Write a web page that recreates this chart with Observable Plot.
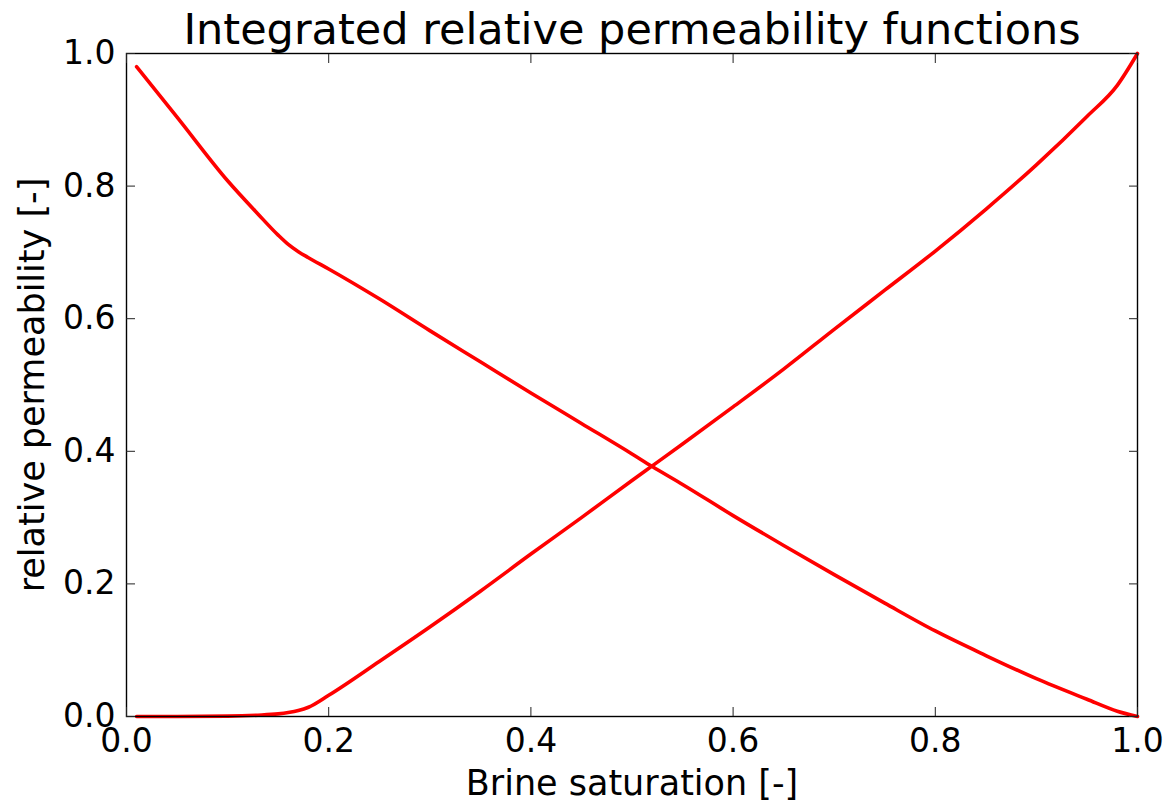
<!DOCTYPE html>
<html>
<head>
<meta charset="utf-8">
<script src="https://cdn.jsdelivr.net/npm/d3@7"></script>
<script src="https://cdn.jsdelivr.net/npm/@observablehq/plot@0.6"></script>
<style>
  html, body { margin: 0; padding: 0; background: #fff; }
  #chart svg { display: block; }
</style>
</head>
<body>
<div id="chart"></div>
<script>
const title = "Integrated relative permeability functions";
const xLabel = "Brine saturation [-]";
const yLabel = "relative permeability [-]";
const tickValues = [0, 0.2, 0.4, 0.6, 0.8, 1.0];

const saturation = [0.01, 0.05, 0.10, 0.13, 0.15, 0.16, 0.17, 0.18, 0.20, 0.25, 0.30, 0.35, 0.40, 0.45, 0.50, 0.52, 0.55, 0.60, 0.65, 0.70, 0.75, 0.80, 0.85, 0.90, 0.95, 0.98, 1.00];
const krDecreasing = [0.980, 0.904, 0.808, 0.758, 0.726, 0.712, 0.701, 0.692, 0.675, 0.630, 0.582, 0.535, 0.488, 0.442, 0.396, 0.377, 0.350, 0.303, 0.258, 0.214, 0.171, 0.129, 0.092, 0.057, 0.026, 0.008, 0.000];
const krIncreasing = [0.000, 0.000, 0.0005, 0.002, 0.004, 0.006, 0.009, 0.014, 0.032, 0.083, 0.135, 0.189, 0.245, 0.300, 0.356, 0.378, 0.411, 0.467, 0.524, 0.584, 0.643, 0.702, 0.765, 0.832, 0.905, 0.952, 1.000];

const rows = [];
saturation.forEach((s, i) => {
  rows.push({series: "decreasing", s, kr: krDecreasing[i]});
});
saturation.forEach((s, i) => {
  rows.push({series: "increasing", s, kr: krIncreasing[i]});
});

const fmt = d3.format(".1f");
const font = "DejaVu Sans";

const chart = Plot.plot({
  width: 1167,
  height: 801,
  marginLeft: 126,
  marginRight: 30,
  marginTop: 53,
  marginBottom: 85,
  style: {fontFamily: font, fontSize: "33px", color: "black", background: "white"},
  x: {domain: [0, 1]},
  y: {domain: [0, 1]},
  marks: [
    Plot.line(rows, {x: "s", y: "kr", z: "series", stroke: "#ff0000", strokeWidth: 3.6, curve: "monotone-x"}),
    Plot.frame({stroke: "black", strokeWidth: 1.4}),
    Plot.axisX({anchor: "bottom", ticks: tickValues, tickSize: -9, tickPadding: 21, tickFormat: fmt, label: null, fontSize: 33, stroke: "#222"}),
    Plot.axisX({anchor: "top", ticks: tickValues, tickSize: -9, tickFormat: () => "", label: null, stroke: "#222"}),
    Plot.axisY({anchor: "left", ticks: tickValues, tickSize: -9, tickPadding: 20, tickFormat: fmt, label: null, fontSize: 33, stroke: "#222"}),
    Plot.axisY({anchor: "right", ticks: tickValues, tickSize: -9, tickFormat: () => "", label: null, stroke: "#222"}),
    Plot.text([title], {frameAnchor: "top", dy: -10, lineAnchor: "bottom", fontSize: 43, fill: "black"}),
    Plot.text([xLabel], {frameAnchor: "bottom", dy: 78, lineAnchor: "bottom", fontSize: 35, fill: "black"}),
    Plot.text([yLabel], {frameAnchor: "left", dx: -83, rotate: -90, textAnchor: "middle", lineAnchor: "bottom", fontSize: 35, fill: "black"})
  ]
});
document.getElementById("chart").appendChild(chart);
</script>
</body>
</html>
